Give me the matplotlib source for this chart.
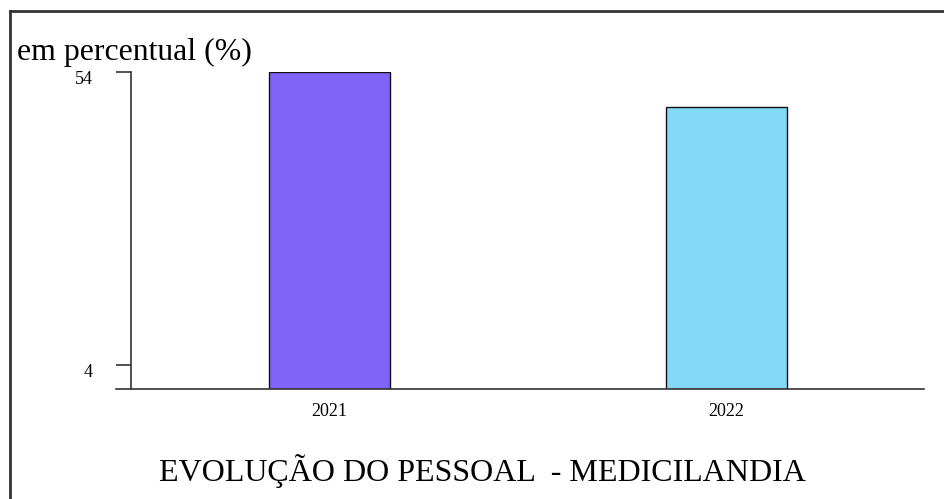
import matplotlib
matplotlib.use("Agg")
import matplotlib.pyplot as plt
import matplotlib.transforms as mtransforms
from matplotlib.lines import Line2D

categories = ["2021", "2022"]
values = [54, 48]
colors = ["#8064FA", "#82D8F6"]
yticks = [4, 54]
ylabel_text = "em percentual (%)"
title_text = "EVOLUÇÃO DO PESSOAL  - MEDICILANDIA"

plt.rcParams['font.family'] = ['Liberation Serif', 'DejaVu Serif']

W, H = 944, 499
fig = plt.figure(figsize=(W / 100, H / 100), dpi=100)

left_px, right_px, top_px, bottom_px = 116, 924, 71.5, 389
ax = fig.add_axes([left_px / W, 1 - bottom_px / H,
                   (right_px - left_px) / W, (bottom_px - top_px) / H])

x = list(range(len(categories)))
ax.bar(x, values, width=0.305, color=colors, edgecolor="#111111", linewidth=1.0)

ax.set_xlim(-0.5378, 1.4975)
ax.set_ylim(0, 54)

ax.spines['top'].set_visible(False)
ax.spines['right'].set_visible(False)
ax.spines['left'].set_position(('axes', 15 / (right_px - left_px)))
for s in ('left', 'bottom'):
    ax.spines[s].set_color('#333333')
    ax.spines[s].set_linewidth(1.2)

ax.set_xticks(x)
ax.set_xticklabels(categories)
ax.tick_params(axis='x', length=0, pad=10, labelsize=13)
ax.set_yticks(yticks)
ax.set_yticklabels([str(t) for t in yticks])
ax.tick_params(axis='y', length=10.5, width=1.2, color='#333333', pad=17, labelsize=13)
offset = mtransforms.ScaledTranslation(0, -5.5 / 100, fig.dpi_scale_trans)
for lab in ax.get_yticklabels():
    lab.set_transform(lab.get_transform() + offset)

fig.text(17 / W, 1 - 60 / H, ylabel_text, fontsize=22.9, ha='left', va='baseline')
fig.text(482.5 / W, 1 - 481 / H, title_text, fontsize=23, ha='center', va='baseline')

# outer frame (top and left edges visible)
fig.add_artist(Line2D([10 / W, 1], [1 - 11 / H, 1 - 11 / H], transform=fig.transFigure,
                      color='#333333', linewidth=2))
fig.add_artist(Line2D([10 / W, 10 / W], [0, 1 - 11 / H], transform=fig.transFigure,
                      color='#333333', linewidth=2))

fig.savefig("out.png", dpi=100)
